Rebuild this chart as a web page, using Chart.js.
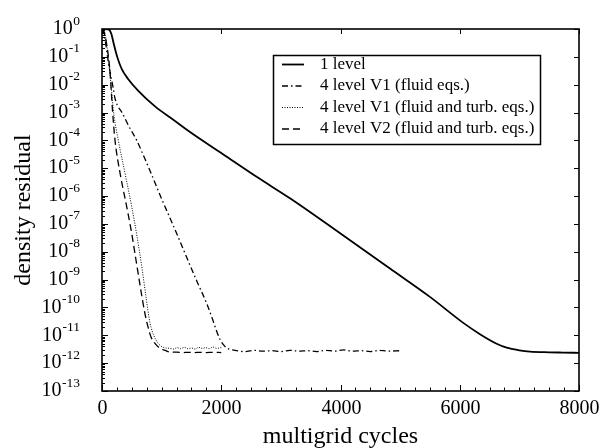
<!DOCTYPE html>
<html>
<head>
<meta charset="utf-8">
<script src="https://cdn.jsdelivr.net/npm/chart.js@4/dist/chart.umd.min.js"></script>
<style>
  html, body { margin: 0; padding: 0; background: #fff; }
  #wrap { width: 602px; height: 448px; }
</style>
</head>
<body>
<div id="wrap"><canvas id="c" width="602" height="448"></canvas></div>
<script>
// Convergence histories: density residual vs. multigrid cycles
const seriesLabels = [
  '1 level',
  '4 level V1 (fluid eqs.)',
  '4 level V1 (fluid and turb. eqs.)',
  '4 level V2 (fluid and turb. eqs.)'
];

const cyclesOneLevel = [0, 100, 134, 160, 190, 247, 330, 441, 609, 889, 1224, 1476, 2029, 2600, 3153, 4000, 4830, 5500, 6059, 6339, 6619, 6787, 7000, 7178, 7500, 7731, 8000];
const residOneLevel  = [1, 0.98, 0.87, 0.63, 0.34, 0.115, 0.037, 0.0158, 0.006, 0.00166, 5.0e-4, 2.0e-4, 3.2e-5, 4.8e-6, 8.3e-7, 4.5e-8, 2.5e-9, 2.4e-10, 2.8e-11, 1.1e-11, 5.0e-12, 3.6e-12, 2.9e-12, 2.6e-12, 2.45e-12, 2.4e-12, 2.35e-12];

const cyclesV1Fluid = [0, 22, 60, 106, 150, 190, 218, 260, 330, 441, 582, 666, 776, 1001, 1224, 1420, 1600, 1756, 1850, 1923, 1980, 2040, 2090, 2180, 2258, 2400, 2550, 2700, 2850, 3000, 3150, 3300, 3450, 3600, 3750, 3900, 4050, 4200, 4350, 4500, 4650, 4800, 5000];
const residV1Fluid  = [1, 0.89, 0.32, 0.065, 0.02, 0.0072, 0.0032, 0.0018, 0.00105, 3.5e-4, 1.0e-4, 4.0e-5, 1.15e-5, 7.9e-7, 6.3e-8, 6.3e-9, 7.9e-10, 1.4e-10, 4.0e-11, 1.4e-11, 7.1e-12, 4.5e-12, 3.5e-12, 3.0e-12, 2.8e-12, 2.6e-12, 2.9e-12, 2.7e-12, 2.8e-12, 2.6e-12, 2.9e-12, 2.7e-12, 2.8e-12, 2.6e-12, 2.9e-12, 2.7e-12, 3.0e-12, 2.7e-12, 2.8e-12, 2.6e-12, 2.9e-12, 2.7e-12, 2.8e-12];

const cyclesV1Turb = [0, 34, 101, 151, 201, 273, 386, 498, 587, 671, 738, 805, 872, 944, 1028, 1140, 1200, 1260, 1320, 1380, 1440, 1500, 1560, 1620, 1680, 1740, 1800, 1860, 1920, 2000];
const residV1Turb  = [1, 0.9, 0.117, 0.0098, 8.1e-4, 1.02e-4, 6.6e-6, 4.2e-7, 3.6e-8, 2.6e-9, 2.4e-10, 2.75e-11, 9.5e-12, 5.1e-12, 3.7e-12, 3.4e-12, 3.2e-12, 3.6e-12, 3.3e-12, 3.7e-12, 3.3e-12, 3.5e-12, 3.2e-12, 3.7e-12, 3.4e-12, 3.6e-12, 3.3e-12, 3.8e-12, 3.4e-12, 3.6e-12];

const cyclesV2Turb = [0, 17, 79, 134, 176, 218, 302, 414, 498, 562, 637, 721, 772, 822, 889, 973, 1057, 1150, 1250, 1350, 1450, 1550, 1650, 1750, 1850, 2000];
const residV2Turb  = [1, 0.95, 0.27, 0.029, 0.0012, 1.02e-4, 6.8e-6, 4.2e-7, 4.6e-8, 6.5e-9, 6.5e-10, 5.9e-11, 2.0e-11, 8.7e-12, 5.1e-12, 3.4e-12, 2.9e-12, 2.45e-12, 2.5e-12, 2.4e-12, 2.45e-12, 2.4e-12, 2.45e-12, 2.4e-12, 2.45e-12, 2.4e-12];

const xTickStep = 250;
const xLabelStep = 2000;
const yDecades = [-13, -12, -11, -10, -9, -8, -7, -6, -5, -4, -3, -2, -1, 0];

const serif = '"Liberation Serif", "Times New Roman", serif';

function pts(xs, ys) { return xs.map((x, i) => ({ x, y: ys[i] })); }

const styles = [
  { dash: [],            width: 1.8 },
  { dash: [6, 3, 1.5, 3], width: 1.3 },
  { dash: [1, 1.5],      width: 1.0 },
  { dash: [7, 4],        width: 1.3 }
];

const datasets = [
  pts(cyclesOneLevel, residOneLevel),
  pts(cyclesV1Fluid, residV1Fluid),
  pts(cyclesV1Turb, residV1Turb),
  pts(cyclesV2Turb, residV2Turb)
].map((data, i) => ({
  label: seriesLabels[i],
  data,
  borderColor: '#000',
  borderWidth: styles[i].width,
  borderDash: styles[i].dash,
  pointRadius: 0,
  fill: false,
  cubicInterpolationMode: 'monotone'
}));

// Frame, inward ticks, tick labels, axis titles and legend box
const decorations = {
  id: 'decorations',
  afterDraw(chart) {
    const { ctx, chartArea: a, scales: { x, y } } = chart;
    ctx.save();
    ctx.strokeStyle = '#000';
    ctx.fillStyle = '#000';

    const seg = (x1, y1, x2, y2) => { ctx.beginPath(); ctx.moveTo(x1, y1); ctx.lineTo(x2, y2); ctx.stroke(); };

    // x ticks
    ctx.lineWidth = 1;
    ctx.font = '20px ' + serif;
    ctx.textAlign = 'center';
    ctx.textBaseline = 'middle';
    x.ticks.forEach(t => {
      const px = Math.round(x.getPixelForValue(t.value)) + 0.5;
      const major = t.value % xLabelStep === 0;
      seg(px, a.bottom, px, a.bottom - (major ? 6 : 3.5));
      if (major) {
        seg(px, a.top, px, a.top + 5);
        ctx.fillText(String(t.value), px, a.bottom + 18);
      }
    });

    // y ticks (log decades + minor ticks on the left)
    y.ticks.forEach(t => {
      const py = Math.round(y.getPixelForValue(t.value)) + 0.5;
      if (t.major) {
        seg(a.left, py, a.left + 6, py);
        seg(a.right, py, a.right - 5, py);
      } else {
        seg(a.left, py, a.left + 3, py);
      }
    });

    // y tick labels: 10 with a raised exponent
    ctx.textAlign = 'left';
    yDecades.forEach(e => {
      const py = y.getPixelForValue(Math.pow(10, e));
      const base = '10', exp = e === 0 ? '0' : '-' + Math.abs(e);
      ctx.font = '20px ' + serif;
      const wb = ctx.measureText(base).width;
      ctx.font = '13.5px ' + serif;
      const we = ctx.measureText(exp).width;
      const x0 = 79.5 - wb - we;
      ctx.font = '20px ' + serif;
      ctx.fillText(base, x0, py);
      ctx.font = '13.5px ' + serif;
      ctx.fillText(exp, x0 + wb + 0.5, py - 8);
    });

    // Axis titles
    ctx.font = '24px ' + serif;
    ctx.textAlign = 'center';
    ctx.fillText('multigrid cycles', (a.left + a.right) / 2, 437);
    ctx.save();
    ctx.translate(24, (a.top + a.bottom) / 2);
    ctx.rotate(-Math.PI / 2);
    ctx.fillText('density residual', 0, 0);
    ctx.restore();

    // Plot frame
    ctx.lineWidth = 1.6;
    ctx.strokeRect(a.left, a.top, a.right - a.left, a.bottom - a.top);

    // Legend
    const lx = 273.5, ly = 55.5, lw = 267, lh = 89;
    ctx.fillStyle = '#fff';
    ctx.fillRect(lx, ly, lw, lh);
    ctx.fillStyle = '#000';
    ctx.lineWidth = 1.5;
    ctx.strokeRect(lx, ly, lw, lh);
    ctx.font = '17px ' + serif;
    ctx.textAlign = 'left';
    chart.data.datasets.forEach((ds, i) => {
      const ry = 64.5 + i * 21.5;
      ctx.lineWidth = ds.borderWidth;
      ctx.setLineDash(ds.borderDash);
      seg(282, ry, 304, ry);
      ctx.setLineDash([]);
      ctx.fillText(ds.label, 320, ry);
    });
    ctx.restore();
  }
};

new Chart(document.getElementById('c'), {
  type: 'line',
  data: { datasets },
  options: {
    responsive: false,
    animation: false,
    layout: { padding: { left: 102, top: 29, right: 23, bottom: 57 } },
    plugins: { legend: { display: false }, tooltip: { enabled: false } },
    scales: {
      x: {
        type: 'linear',
        min: 0,
        max: 8000,
        ticks: { display: false, stepSize: xTickStep, autoSkip: false },
        grid: { display: false },
        border: { display: false },
        afterFit: s => { s.height = 0; }
      },
      y: {
        type: 'logarithmic',
        min: 1e-13,
        max: 1,
        ticks: { display: false },
        grid: { display: false },
        border: { display: false },
        afterBuildTicks: s => {
          const ticks = [];
          yDecades.forEach(e => {
            ticks.push({ value: Math.pow(10, e), major: true });
            if (e < 0) for (let m = 2; m <= 9; m++) ticks.push({ value: m * Math.pow(10, e), major: false });
          });
          s.ticks = ticks;
        },
        afterFit: s => { s.width = 0; }
      }
    }
  },
  plugins: [decorations]
});
</script>
</body>
</html>
